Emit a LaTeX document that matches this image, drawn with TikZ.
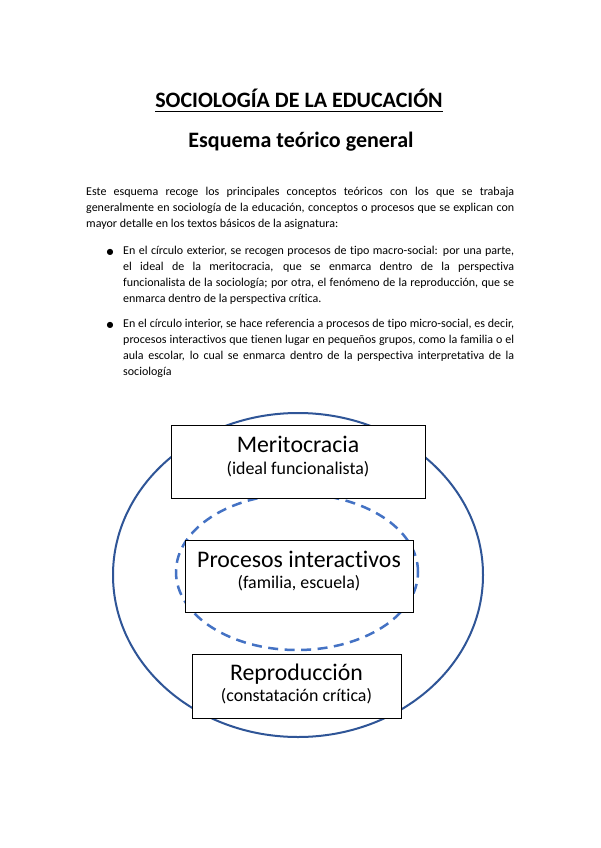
\documentclass[tikz,border=0pt]{standalone}
\usepackage{fontspec}
\setmainfont[Ligatures={NoCommon}]{Carlito}
\newfontfamily\symfont{DejaVu Sans}
\definecolor{outerblue}{HTML}{2F5597}
\definecolor{innerblue}{HTML}{4472C4}
\begin{document}
\begin{tikzpicture}[x=1pt,y=-1pt,
  txt/.style={inner sep=0pt, anchor=base west, font=\fontsize{12}{14}\selectfont},
  bul/.style={inner sep=0pt, anchor=base, font=\symfont\fontsize{8}{9}\selectfont},
  box/.style={draw=black, line width=0.9pt, fill=white, inner sep=0pt},
  big/.style={inner sep=0pt, anchor=base, font=\fontsize{23.8}{28}\selectfont},
  small/.style={inner sep=0pt, anchor=base, font=\fontsize{17.9}{21}\selectfont},
  head/.style={inner sep=0pt, anchor=base, font=\fontsize{22}{26}\selectfont\bfseries},
]
\useasboundingbox[fill=white] (0,0) rectangle (600,848);

% titles
\node[head] (title) at (299,108) {SOCIOLOGÍA DE LA EDUCACIÓN};
\draw[line width=1.3pt] ([yshift=-3.8pt]title.base west) -- ([yshift=-3.8pt]title.base east);
\node[head] (subtitle) at (301,147) {Esquema teórico general};

% intro paragraph
\node[txt] (p1) at (86,195) {\makebox[428pt][s]{Este esquema recoge los principales conceptos teóricos con los que se trabaja}};
\node[txt] (p2) at (86,211) {\makebox[428pt][s]{generalmente en sociología de la educación, conceptos o procesos que se explican con}};
\node[txt] (p3) at (86,227) {mayor detalle en los textos básicos de la asignatura:};

% bullet 1
\node[bul] (b1) at (110,254) {●};
\node[txt] (a1) at (123,254) {\makebox[391pt][s]{En el círculo exterior, se recogen procesos de tipo macro-social: por una parte,}};
\node[txt] (a2) at (123,270) {\makebox[391pt][s]{el ideal de la meritocracia, que se enmarca dentro de la perspectiva}};
\node[txt] (a3) at (123,286) {\makebox[391pt][s]{funcionalista de la sociología; por otra, el fenómeno de la reproducción, que se}};
\node[txt] (a4) at (123,302) {enmarca dentro de la perspectiva crítica.};

% bullet 2
\node[bul] (b2) at (110,327) {●};
\node[txt] (c1) at (123,327) {\makebox[391pt][s]{En el círculo interior, se hace referencia a procesos de tipo micro-social, es decir,}};
\node[txt] (c2) at (123,343) {\makebox[391pt][s]{procesos interactivos que tienen lugar en pequeños grupos, como la familia o el}};
\node[txt] (c3) at (123,359) {\makebox[391pt][s]{aula escolar, lo cual se enmarca dentro de la perspectiva interpretativa de la}};
\node[txt] (c4) at (123,375) {sociología};

% circles
\draw[outerblue, line width=2pt] (298,575) ellipse [x radius=185pt, y radius=162pt];
\draw[innerblue, line width=2.5pt, dash pattern=on 10pt off 6.5pt] (297,572) ellipse [x radius=121pt, y radius=78pt];

% boxes
\node[box, minimum width=254pt, minimum height=73pt] (merit) at (298,461.5) {};
\node[big] (meritT) at (298,452) {Meritocracia};
\node[small] (meritS) at (298,474.5) {(ideal funcionalista)};

\node[box, minimum width=228pt, minimum height=72pt] (proc) at (299,576) {};
\node[big] (procT) at (299,567) {Procesos interactivos};
\node[small] (procS) at (299,588) {(familia, escuela)};

\node[box, minimum width=209pt, minimum height=64pt] (repr) at (296.5,686) {};
\node[big] (reprT) at (296.5,680) {Reproducción};
\node[small] (reprS) at (296.5,701) {(constatación crítica)};
\end{tikzpicture}
\end{document}
